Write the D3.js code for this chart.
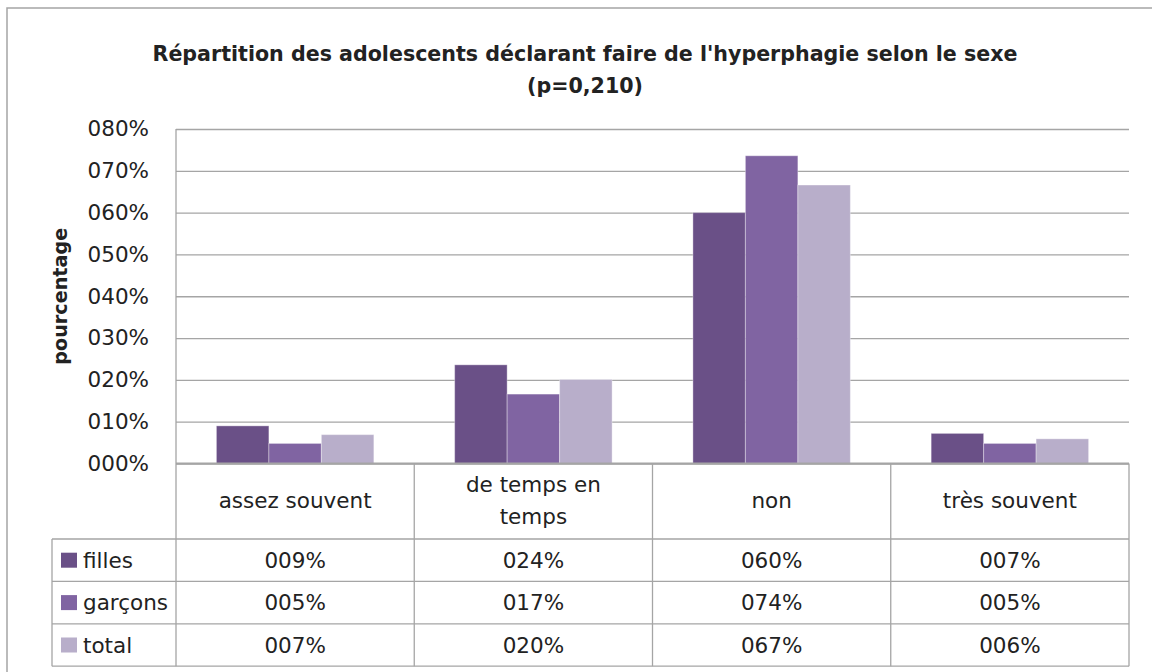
<!DOCTYPE html>
<html>
<head>
<meta charset="utf-8">
<script src="https://cdn.jsdelivr.net/npm/d3@7"></script>
<style>
    body { margin: 0; background: #fff; }
    svg { display: block; font-family: "Comic Sans MS", "DejaVu Sans", sans-serif; }
</style>
</head>
<body>
<div id="chart"></div>
<script>
(function (d3) {
    'use strict';

    // data
    var categories = ["assez souvent", "de temps en temps", "non", "très souvent"];
    var seriesNames = ["filles", "garçons", "total"];
    var filles = [9.0, 23.6, 60.0, 7.2];
    var garcons = [4.8, 16.6, 73.6, 4.8];
    var total = [6.9, 20.1, 66.6, 5.9];
    var yTicks = [0, 10, 20, 30, 40, 50, 60, 70, 80];

    var seriesValues = [filles, garcons, total];
    var colors = ["#6a5087", "#8064a2", "#b8aeca"];

    var width = 1152, height = 672;
    var plot = { left: 176, right: 1129, top: 129, bottom: 463.5 };
    var table = { left: 52, catBottom: 539, rowH: 42.4 };
    var gridColor = "#a5a5a5";
    var textColor = "#222";
    var fs = 21.5;

    var svg = d3.select("#chart").append("svg")
        .attr("width", width)
        .attr("height", height);

    // outer chart border (runs off the right/bottom of the picture)
    svg.append("rect")
        .attr("x", 7).attr("y", 8)
        .attr("width", 1160).attr("height", 680)
        .attr("fill", "#fff")
        .attr("stroke", gridColor)
        .attr("stroke-width", 1.5);

    // title
    var title = svg.append("text")
        .attr("text-anchor", "middle")
        .attr("font-weight", "bold")
        .attr("font-size", 20.6)
        .attr("fill", textColor);
    title.append("tspan").attr("x", 585).attr("y", 61)
        .text("Répartition des adolescents déclarant faire de l'hyperphagie selon le sexe");
    title.append("tspan").attr("x", 585).attr("y", 93)
        .text("(p=0,210)");

    var x0 = d3.scaleBand()
        .domain(categories)
        .range([plot.left, plot.right])
        .padding(0);

    var x1 = d3.scaleBand()
        .domain(seriesNames)
        .range([0, x0.bandwidth()])
        .paddingInner(0)
        .paddingOuter(0.77);

    var y = d3.scaleLinear()
        .domain([0, 80])
        .range([plot.bottom, plot.top]);

    var fmt = function (v) { return d3.format("03.0f")(v) + "%"; };

    // gridlines
    var grid = svg.append("g")
        .attr("transform", "translate(" + plot.left + ",0)")
        .call(d3.axisLeft(y).tickValues(yTicks).tickSize(-(plot.right - plot.left)).tickFormat(""));
    grid.select(".domain").remove();
    grid.selectAll("line").attr("stroke", gridColor).attr("stroke-width", 1.3);

    // y tick labels
    var yAxis = svg.append("g")
        .attr("transform", "translate(" + (plot.left - 27) + ",0)")
        .call(d3.axisLeft(y).tickValues(yTicks).tickSize(0).tickPadding(0).tickFormat(fmt));
    yAxis.select(".domain").remove();
    yAxis.attr("font-family", null).attr("font-size", null);
    yAxis.selectAll("text")
        .attr("font-size", fs)
        .attr("fill", textColor);

    // y axis title
    svg.append("text")
        .attr("transform", "translate(67," + ((plot.top + plot.bottom) / 2) + ") rotate(-90)")
        .attr("text-anchor", "middle")
        .attr("font-weight", "bold")
        .attr("font-size", 19.2)
        .attr("fill", textColor)
        .text("pourcentage");

    // bars
    var groups = svg.append("g").selectAll("g")
        .data(categories)
        .join("g")
        .attr("transform", function (c) { return "translate(" + x0(c) + ",0)"; });

    groups.selectAll("rect")
        .data(function (c, i) {
            return seriesNames.map(function (s, j) { return { s: s, v: seriesValues[j][i], j: j }; });
        })
        .join("rect")
        .attr("x", function (d) { return x1(d.s); })
        .attr("y", function (d) { return y(d.v); })
        .attr("width", x1.bandwidth())
        .attr("height", function (d) { return y(0) - y(d.v); })
        .attr("fill", function (d) { return colors[d.j]; })
        .attr("stroke", "#fff")
        .attr("stroke-opacity", 0.35)
        .attr("stroke-width", 1);

    // data table
    var rowTop = function (j) { return table.catBottom + j * table.rowH; };
    var tableBottom = rowTop(seriesNames.length);
    var lines = svg.append("g")
        .attr("stroke", gridColor)
        .attr("stroke-width", 1.3);

    // baseline / top of table
    lines.append("line")
        .attr("x1", plot.left).attr("x2", plot.right)
        .attr("y1", y(0)).attr("y2", y(0))
        .attr("stroke-width", 1.8);
    // row lines
    d3.range(seriesNames.length + 1).forEach(function (j) {
        lines.append("line")
            .attr("x1", table.left).attr("x2", plot.right)
            .attr("y1", rowTop(j)).attr("y2", rowTop(j));
    });
    // column lines
    categories.forEach(function (c) {
        lines.append("line")
            .attr("x1", x0(c)).attr("x2", x0(c))
            .attr("y1", x0(c) === plot.left ? plot.top : y(0)).attr("y2", tableBottom);
    });
    lines.append("line")
        .attr("x1", plot.right).attr("x2", plot.right)
        .attr("y1", y(0)).attr("y2", tableBottom);
    lines.append("line")
        .attr("x1", table.left).attr("x2", table.left)
        .attr("y1", table.catBottom).attr("y2", tableBottom);

    // category labels (wrap long ones)
    var catMid = (y(0) + table.catBottom) / 2;
    categories.forEach(function (c) {
        var parts = c === "de temps en temps" ? ["de temps en", "temps"] : [c];
        var t = svg.append("text")
            .attr("text-anchor", "middle")
            .attr("font-size", fs)
            .attr("fill", textColor);
        parts.forEach(function (p, k) {
            t.append("tspan")
                .attr("x", x0(c) + x0.bandwidth() / 2)
                .attr("y", catMid + 7 + (k - (parts.length - 1) / 2) * 32)
                .text(p);
        });
    });

    // legend keys + values
    seriesNames.forEach(function (s, j) {
        var mid = rowTop(j) + table.rowH / 2;
        svg.append("rect")
            .attr("x", table.left + 9).attr("y", mid - 7.5)
            .attr("width", 16).attr("height", 15)
            .attr("fill", colors[j]);
        svg.append("text")
            .attr("x", table.left + 31).attr("y", mid + 7.5)
            .attr("font-size", fs)
            .attr("fill", textColor)
            .text(s);
        categories.forEach(function (c, i) {
            svg.append("text")
                .attr("x", x0(c) + x0.bandwidth() / 2)
                .attr("y", mid + 7.5)
                .attr("text-anchor", "middle")
                .attr("font-size", fs)
                .attr("fill", textColor)
                .text(fmt(seriesValues[j][i]));
        });
    });

}(window.d3));
</script>
</body>
</html>
